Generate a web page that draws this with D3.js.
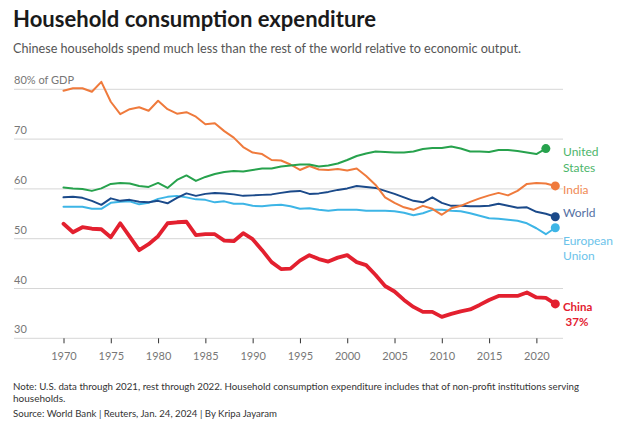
<!DOCTYPE html>
<html><head><meta charset="utf-8">
<script src="https://cdn.jsdelivr.net/npm/d3@7"></script>
<style>
body{margin:0;background:#fff;}
svg{display:block;font-family:"Lato","Noto Sans",sans-serif;}
</style></head>
<body><svg id="c" width="623" height="424"></svg>
<script>
const years = d3.range(1970, 2023);
const india = [79.7,80.2,80.2,79.5,81.5,77.5,75.0,76.0,76.4,75.7,77.7,76.0,75.1,75.4,74.5,73.0,73.2,71.6,70.3,68.4,67.3,67.0,65.8,65.7,64.9,63.8,64.6,63.9,63.8,64.0,63.7,64.1,62.6,60.8,58.3,57.2,56.3,55.8,56.6,56.0,54.8,56.1,56.6,57.4,58.1,58.7,59.2,58.7,59.6,61.0,61.2,61.1,60.6];
const usa = [60.3,60.1,60.0,59.6,60.1,61.0,61.2,61.1,60.6,60.4,61.2,60.2,61.8,62.7,61.6,62.4,63.0,63.4,63.6,63.5,63.8,64.1,64.1,64.5,64.7,64.9,64.9,64.5,64.7,65.1,65.8,66.6,67.1,67.5,67.4,67.3,67.3,67.5,68.0,68.2,68.2,68.5,68.1,67.5,67.5,67.4,67.8,67.8,67.6,67.3,67.0,68.1];
const world = [58.3,58.4,58.2,57.6,56.8,58.1,57.6,57.8,57.4,57.3,57.6,57.1,58.2,59.1,58.6,59.0,59.2,59.1,58.9,58.6,58.7,58.8,58.9,59.2,59.5,59.6,59.0,59.1,59.4,59.8,60.1,60.6,60.4,60.2,59.6,59.0,58.3,57.6,57.3,58.3,57.2,56.6,56.6,56.5,56.5,56.6,57.0,56.6,56.2,56.3,55.4,55.0,54.4];
const eu = [56.4,56.4,56.4,56.0,56.0,57.2,57.4,57.5,56.9,57.2,58.0,58.4,58.6,58.3,57.9,57.8,57.3,57.5,57.0,57.0,56.6,56.5,56.7,56.8,56.5,56.0,56.1,55.8,55.6,55.8,55.8,55.8,55.6,55.6,55.6,55.5,55.2,54.7,55.1,55.8,55.8,55.6,55.5,55.1,54.6,54.1,54.0,53.8,53.6,53.1,52.1,50.9,52.2];
const china = [53.0,51.3,52.3,52.0,51.9,50.3,53.1,50.4,47.7,48.9,50.5,53.1,53.3,53.4,50.7,50.9,50.9,49.6,49.5,51.1,49.9,47.7,45.3,43.9,44.0,45.6,46.7,45.9,45.4,46.2,46.7,45.3,44.7,42.7,40.5,39.4,37.7,36.3,35.3,35.3,34.3,34.9,35.4,35.8,36.7,37.7,38.5,38.5,38.5,39.2,38.2,38.1,36.9];
const yTicks = [30,40,50,60,70,80];
const xTicks = [1970,1975,1980,1985,1990,1995,2000,2005,2010,2015,2020];

const svg = d3.select("#c");
const x = d3.scaleLinear().domain([1970,2022]).range([63.5,555.3]);
const y = d3.scaleLinear().domain([30,80]).range([338.3,89.3]);
const gridL = 14, gridR = 563;

svg.append("text").attr("x",13).attr("y",27).attr("font-size",22).attr("font-weight",700)
  .attr("fill","#1a1a1a").attr("textLength",363).attr("lengthAdjust","spacingAndGlyphs")
  .text("Household consumption expenditure");
svg.append("text").attr("x",13).attr("y",53).attr("font-size",13).attr("fill","#555")
  .attr("textLength",508).attr("lengthAdjust","spacingAndGlyphs")
  .text("Chinese households spend much less than the rest of the world relative to economic output.");

// gridlines
const g = svg.append("g");
g.selectAll("line.grid").data(yTicks).join("line")
  .attr("x1",gridL).attr("x2",gridR).attr("y1",d=>y(d)).attr("y2",d=>y(d))
  .attr("stroke","#d6d6d6").attr("stroke-width",1);
g.selectAll("text.yl").data(yTicks).join("text")
  .attr("x",14).attr("y",d=>y(d)-5).attr("font-size",11).attr("fill","#777")
  .text(d=>d===80?"80% of GDP":d);

// x axis
const xa = svg.append("g").attr("transform",`translate(0,${y(30)})`)
  .call(d3.axisBottom(x).tickValues(xTicks).tickFormat(d3.format("d")).tickSize(5).tickPadding(9));
xa.select(".domain").remove();
xa.selectAll("line").attr("stroke","#333");
xa.selectAll("text").attr("font-size",11).attr("fill","#777").attr("font-family","Lato,'Noto Sans',sans-serif");

const series = [
  {name:"eu", vals:eu, color:"#3db5e6", w:2},
  {name:"world", vals:world, color:"#1b4a8a", w:2},
  {name:"india", vals:india, color:"#ef7a3c", w:2},
  {name:"usa", vals:usa, color:"#27a24d", w:2},
  {name:"china", vals:china, color:"#e3202f", w:3.8},
];
const line = d3.line().x(d=>x(d[0])).y(d=>y(d[1]));
series.forEach(s=>{
  const pts = s.vals.map((v,i)=>[years[i],v]);
  svg.append("path").attr("d",line(pts)).attr("fill","none").attr("stroke",s.color)
    .attr("stroke-width",s.w).attr("stroke-linejoin","round").attr("stroke-linecap","round");
  const last = pts[pts.length-1];
  svg.append("circle").attr("cx",x(last[0])).attr("cy",y(last[1])).attr("r",4.5).attr("fill",s.color);
});

// labels
const lab = (txt,xx,yy,col,opts={})=>svg.append("text").attr("x",xx).attr("y",yy).attr("font-size",opts.fs||12)
  .attr("fill",col).attr("font-weight",opts.fw||400).attr("text-anchor",opts.anchor||"start").text(txt);
lab("United",563,156,"#4cb56a");
lab("States",563,172,"#4cb56a");
lab("India",563,194,"#f08a55");
lab("World",563,217,"#5470a3");
lab("European",563,245,"#6cc3ea");
lab("Union",563,260,"#6cc3ea");
lab("China",563,311,"#e3202f",{fw:700,fs:11.5});
lab("37%",577,326,"#e3202f",{fw:700,fs:11.5,anchor:"middle"});

// notes
const nfs=10;
svg.append("text").attr("x",13).attr("y",390).attr("font-size",nfs).attr("fill","#333")
  .attr("textLength",566).attr("lengthAdjust","spacingAndGlyphs")
  .text("Note: U.S. data through 2021, rest through 2022. Household consumption expenditure includes that of non-profit institutions serving");
svg.append("text").attr("x",13).attr("y",402).attr("font-size",nfs).attr("fill","#333").text("households.");
svg.append("text").attr("x",13).attr("y",417).attr("font-size",nfs).attr("fill","#333")
  .attr("textLength",264).attr("lengthAdjust","spacingAndGlyphs")
  .text("Source: World Bank | Reuters, Jan. 24, 2024 | By Kripa Jayaram");
</script></body></html>
